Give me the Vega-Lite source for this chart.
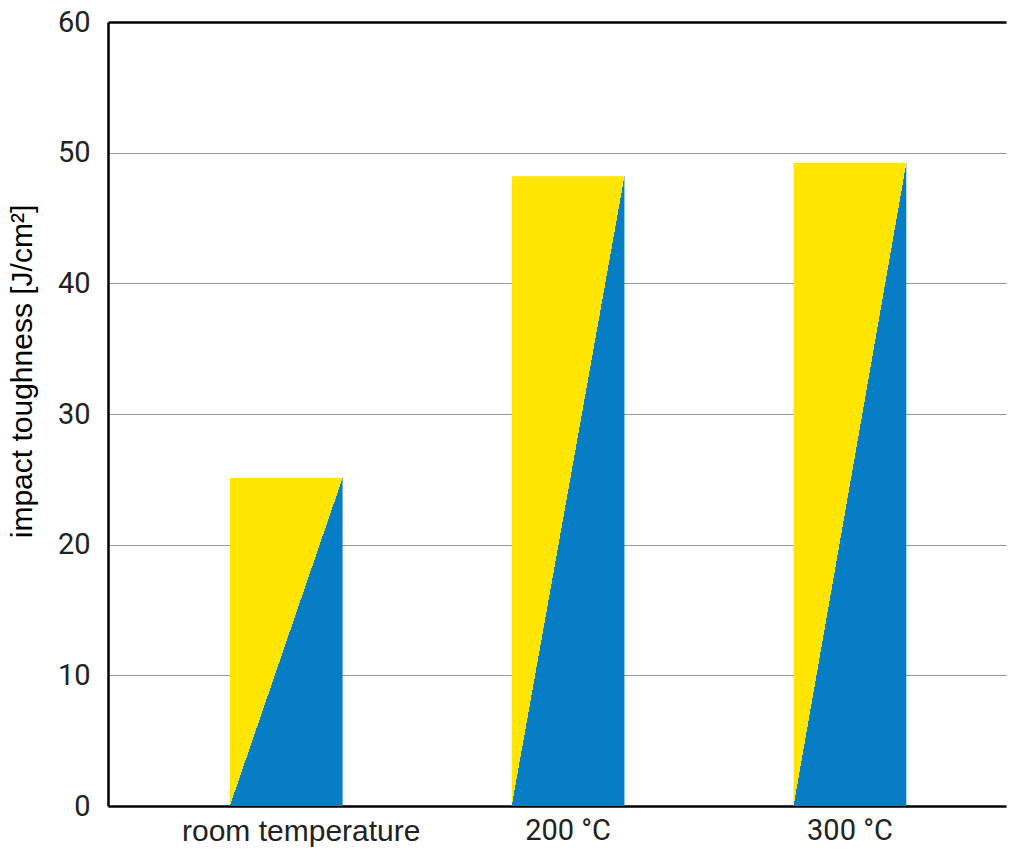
{
  "$schema": "https://vega.github.io/schema/vega-lite/v6.json",
  "width": 898,
  "height": 784,
  "autosize": {"type": "none"},
  "padding": {"left": 108, "top": 22, "right": 18, "bottom": 52},
  "background": "white",
  "config": {"view": {"stroke": null}},
  "data": {
    "values": [
      {"condition": "room temperature", "toughness": 25.1},
      {"condition": "200 °C", "toughness": 48.2},
      {"condition": "300 °C", "toughness": 49.2}
    ]
  },
  "mark": {
    "type": "bar",
    "color": {
      "gradient": "linear",
      "x1": 0, "y1": 0, "x2": 1, "y2": 1,
      "stops": [
        {"offset": 0, "color": "#FFE500"},
        {"offset": 0.5, "color": "#FFE500"},
        {"offset": 0.5, "color": "#067DC4"},
        {"offset": 1, "color": "#067DC4"}
      ]
    }
  },
  "encoding": {
    "x": {
      "field": "condition",
      "type": "nominal",
      "sort": null,
      "scale": {"paddingInner": 0.6, "paddingOuter": 0.393, "align": 0.55},
      "axis": {
        "title": null,
        "labelAngle": 0,
        "labelLimit": 0,
        "ticks": false,
        "grid": false,
        "domainColor": "black",
        "domainWidth": 2.5,
        "labelPadding": 10,
        "labelFontSize": {"condition": {"test": "datum.value == 'room temperature'", "value": 30}, "value": 29},
        "labelOffset": {"condition": {"test": "datum.value == 'room temperature'", "value": 15}, "value": 0},
        "labelColor": "#222",
        "labelFont": {"condition": {"test": "datum.value == 'room temperature'", "value": "Liberation Sans"}, "value": "Roboto"}
      }
    },
    "y": {
      "field": "toughness",
      "type": "quantitative",
      "scale": {"domain": [0, 60]},
      "axis": {
        "title": "impact toughness [J/cm²]",
        "values": [0, 10, 20, 30, 40, 50, 60],
        "ticks": false,
        "grid": true,
        "gridColor": {"condition": {"test": "datum.value == 60", "value": "black"}, "value": "#999"},
        "gridWidth": {"condition": {"test": "datum.value == 60", "value": 2.5}, "value": 1.2},
        "gridOpacity": 1,
        "domainColor": "black",
        "domainWidth": 2.5,
        "labelPadding": 18,
        "labelFont": "Roboto",
        "labelFontSize": 29,
        "labelColor": "#222",
        "titleFont": "Liberation Sans",
        "titleFontSize": 30,
        "titleFontWeight": "normal",
        "titleColor": "black",
        "titlePadding": 20,
        "titleY": 349
      }
    }
  }
}
